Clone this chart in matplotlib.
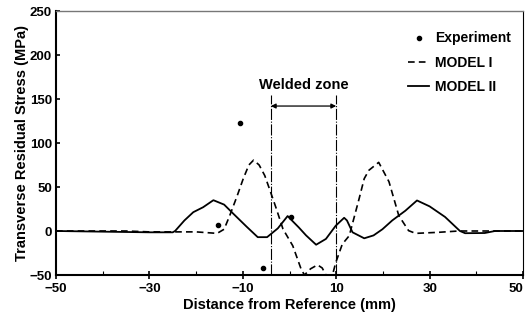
import numpy as np
import matplotlib
matplotlib.use("Agg")
from matplotlib import pyplot as plt
from matplotlib import transforms

plt.rcParams['font.family'] = ['Liberation Sans', 'DejaVu Sans']
plt.rcParams['font.weight'] = 'bold'
plt.rcParams['axes.labelweight'] = 'bold'

# Experiment points
exp_x = [-15.4, -10.5, -5.7, 0.4]
exp_y = [7, 123, -41.5, 15.7]

# MODEL I (dashed)
m1_x = [-50, -35, -30, -25, -20, -15.5, -14, -12.8, -11.2, -9.9, -8.7, -7.7, -6.5, -5.3, -4.3,
        -2.8, -1.4, 0.7, 2.5, 3.2, 4.5, 6.0, 7.0, 7.8, 9.2, 9.9, 11.3, 12.8, 14.9, 16.0, 17.0,
        19.1, 21.3, 23.4, 25.5, 27, 31.9, 36.2, 50]
m1_y = [0, 0, -1, -1, -1, -2.7, 2, 17.5, 40, 59.5, 75, 80.5, 75, 63, 48,
        25, 2.3, -16.8, -43.5, -50, -43, -38.5, -42, -50, -50, -36, -15, -5.3, 36.6, 59.5, 69,
        78, 56, 17.5, 0.4, -2.7, -1.5, 0, 0]

# MODEL II (solid)
m2_x = [-50, -30, -25, -24.5, -22.5, -20.6, -18.5, -16.3, -14, -12.1, -9.2, -6.8, -4.8, -2.5,
        -0.4, 0.7, 2, 3.55, 5.7, 7.8, 9.9, 11.7, 12.3, 13.5, 16.0, 18, 19.9, 22, 24.8, 27.3,
        30, 33.3, 36.5, 37.6, 41.8, 44, 50]
m2_y = [0, -1.5, -1.5, 0, 12, 21.4, 27, 35, 30, 20, 5, -7, -7, 3,
        17, 11, 4, -5, -15.6, -9, 6, 15, 12, -1.5, -8.3, -5, 2, 12, 23, 34.7,
        28, 16, 0, -2.5, -2.3, 0, 0]

zone = [-4, 10]

fig = plt.figure(figsize=(5.27, 3.25), dpi=100)
ax = fig.add_axes([56 / 527, 1 - 275 / 325, (523 - 56) / 527, (275 - 11) / 325])

ax.plot(m1_x, m1_y, color='black', lw=1.2, ls=(0, (4, 2.5)), label='MODEL I')
ax.plot(m2_x, m2_y, color='black', lw=1.3, label='MODEL II')
ax.plot(exp_x, exp_y, 'o', color='black', ms=3, ls='none', label='Experiment')

# welded zone marker
for zx in zone:
    ax.plot([zx, zx], [-50, 155], color='black', lw=0.8, ls=(0, (10, 1.5, 1, 1.5)))
ax.annotate('', xy=(zone[0], 142), xytext=(zone[1], 142),
            arrowprops=dict(arrowstyle='<|-|>', color='black', lw=0.9,
                            mutation_scale=7, shrinkA=0, shrinkB=0))
ax.text(sum(zone) / 2, 166, 'Welded zone', ha='center', va='center', fontsize=10.5,
        fontweight='bold')

ax.set_xlim(-50, 50)
ax.set_ylim(-50, 250)
ax.set_xticks([-50, -30, -10, 10, 30, 50])
ax.set_xticks([-40, -20, 0, 20, 40], minor=True)
ax.set_yticks([-50, 0, 50, 100, 150, 200, 250])
ax.tick_params(axis='both', which='major', direction='inout', length=6, width=1.2,
               labelsize=9.5, pad=3)
ax.tick_params(axis='x', which='minor', direction='in', length=3, width=0.8)
ax.tick_params(axis='y', which='major', direction='in', length=3)
for lab in ax.get_xticklabels() + ax.get_yticklabels():
    lab.set_fontweight('bold')
# last x label sits at the right edge; nudge it inside
last = ax.get_xticklabels()[-1]
last.set_transform(last.get_transform() + transforms.ScaledTranslation(-7 / 100, 0, fig.dpi_scale_trans))

ax.spines['left'].set_linewidth(1.5)
ax.spines['bottom'].set_linewidth(1.5)
ax.spines['top'].set_color('#777777')
ax.spines['top'].set_linewidth(1.0)
ax.spines['right'].set_linewidth(0.8)

ax.set_xlabel('Distance from Reference (mm)', fontsize=10.5, fontweight='bold', labelpad=2)
ax.set_ylabel('Transverse Residual Stress (MPa)', fontsize=10.5, fontweight='bold', labelpad=0)

handles, labels = ax.get_legend_handles_labels()
order = [2, 0, 1]
ax.legend([handles[i] for i in order], [labels[i] for i in order], loc='upper right',
          frameon=False, fontsize=10, handlelength=1.5, handletextpad=0.4,
          labelspacing=0.75, bbox_to_anchor=(1.0, 0.97),
          prop={'weight': 'bold', 'size': 10})

fig.savefig('out.png', dpi=100)
